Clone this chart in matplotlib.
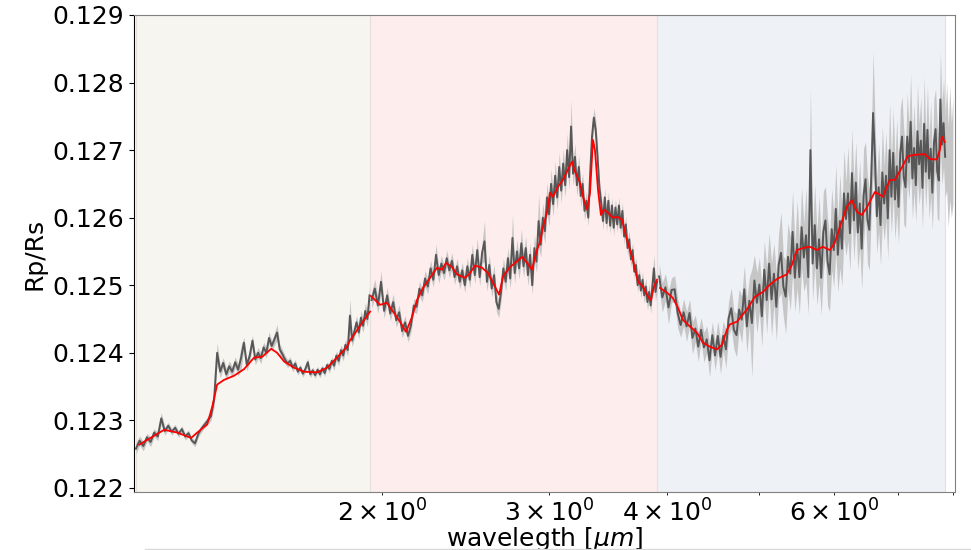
import numpy as np
import matplotlib
matplotlib.use("Agg")
import matplotlib.pyplot as plt
from matplotlib.lines import Line2D

# --- short band: wavelength [um], Rp/Rs, error (in 1e-5 units) ---
wl_a = [1.10, 1.11, 1.12, 1.13, 1.14, 1.15, 1.16, 1.17, 1.18, 1.19,
        1.20, 1.21, 1.22, 1.23, 1.24, 1.25, 1.26, 1.27, 1.28, 1.29,
        1.30, 1.31, 1.32, 1.33, 1.34, 1.35, 1.36, 1.37, 1.38, 1.39,
        1.40, 1.41, 1.42, 1.43, 1.44, 1.45, 1.46, 1.47, 1.48, 1.49,
        1.50, 1.51, 1.52, 1.53, 1.54, 1.55, 1.56, 1.57, 1.58, 1.59,
        1.60, 1.61, 1.62, 1.63, 1.64, 1.65, 1.66, 1.67, 1.68, 1.69,
        1.70, 1.71, 1.72, 1.73, 1.74, 1.75, 1.76, 1.77, 1.78, 1.79,
        1.80, 1.81, 1.82, 1.83, 1.84, 1.85, 1.86, 1.87, 1.88, 1.89,
        1.90, 1.91, 1.92, 1.93, 1.94]
rp_a = [0.12258, 0.12270, 0.12262, 0.12275, 0.12268, 0.12282, 0.12276, 0.12303, 0.12284, 0.12292,
        0.12283, 0.12289, 0.12280, 0.12287, 0.12276, 0.12281, 0.12270, 0.12266, 0.12280, 0.12288,
        0.12294, 0.12300, 0.12306, 0.12330, 0.12400, 0.12372, 0.12385, 0.12368, 0.12380, 0.12372,
        0.12386, 0.12375, 0.12392, 0.12415, 0.12382, 0.12395, 0.12418, 0.12390, 0.12400, 0.12392,
        0.12408, 0.12400, 0.12422, 0.12410, 0.12420, 0.12430, 0.12405, 0.12398, 0.12390, 0.12384,
        0.12388, 0.12378, 0.12384, 0.12372, 0.12378, 0.12369, 0.12376, 0.12386, 0.12368, 0.12374,
        0.12367, 0.12375, 0.12368, 0.12377, 0.12370, 0.12382, 0.12376, 0.12388, 0.12381, 0.12396,
        0.12388, 0.12404, 0.12396, 0.12412, 0.12404, 0.12455, 0.12418, 0.12432, 0.12445, 0.12430,
        0.12452, 0.12440, 0.12462, 0.12450, 0.12485]
err_a = [8, 7, 7, 6, 7, 6, 6, 9, 6, 5,
         5, 5, 5, 5, 5, 5, 4, 5, 5, 5,
         5, 6, 6, 10, 15, 9, 8, 9, 8, 8,
         8, 9, 18, 8, 9, 10, 8, 8, 8, 8,
         8, 8, 9, 8, 9, 12, 8, 7, 6, 6,
         6, 6, 6, 5, 5, 5, 5, 6, 5, 5,
         5, 5, 5, 5, 5, 5, 6, 6, 7, 7,
         7, 8, 8, 8, 9, 25, 9, 10, 10, 9,
         11, 10, 12, 11, 13]

# --- middle band ---
wl_b = [1.950, 1.965, 1.980, 1.995, 2.010, 2.025, 2.040, 2.055, 2.070, 2.085,
        2.100, 2.115, 2.130, 2.145, 2.160, 2.175, 2.190, 2.205, 2.220, 2.235,
        2.250, 2.265, 2.280, 2.295, 2.310, 2.325, 2.340, 2.355, 2.370, 2.385,
        2.400, 2.415, 2.430, 2.445, 2.460, 2.475, 2.490, 2.505, 2.520, 2.535,
        2.550, 2.565, 2.580, 2.595, 2.610, 2.625, 2.640, 2.655, 2.670, 2.685,
        2.700, 2.715, 2.730, 2.745, 2.760, 2.775, 2.790, 2.805, 2.820, 2.835,
        2.850, 2.865, 2.880, 2.895, 2.910, 2.925, 2.940, 2.955, 2.970, 2.985,
        3.000, 3.015, 3.030, 3.045, 3.060, 3.075, 3.090, 3.105, 3.120, 3.135,
        3.150, 3.165, 3.180, 3.195, 3.210, 3.225, 3.240, 3.255, 3.270, 3.285,
        3.300, 3.315, 3.330, 3.345, 3.360, 3.375, 3.390, 3.405, 3.420, 3.435,
        3.450, 3.465, 3.480, 3.495, 3.510, 3.525, 3.540, 3.555, 3.570, 3.585,
        3.600, 3.615, 3.630, 3.645, 3.660, 3.675, 3.690, 3.705, 3.720, 3.735,
        3.750, 3.765, 3.780, 3.795, 3.810, 3.825, 3.840, 3.855, 3.870, 3.885,
        3.900]
rp_b = [0.12478, 0.12495, 0.12470, 0.12505, 0.12462, 0.12485, 0.12458, 0.12475, 0.12448, 0.12460,
        0.12432, 0.12445, 0.12425, 0.12440, 0.12470, 0.12468, 0.12495, 0.12485, 0.12510, 0.12498,
        0.12525, 0.12508, 0.12545, 0.12515, 0.12532, 0.12518, 0.12540, 0.12522, 0.12536, 0.12512,
        0.12528, 0.12505, 0.12522, 0.12500, 0.12528, 0.12508, 0.12545, 0.12515, 0.12552, 0.12512,
        0.12548, 0.12565, 0.12505, 0.12530, 0.12495, 0.12515, 0.12475, 0.12465, 0.12490, 0.12525,
        0.12505, 0.12540, 0.12510, 0.12570, 0.12518, 0.12550, 0.12525, 0.12562, 0.12528, 0.12555,
        0.12515, 0.12545, 0.12500, 0.12555, 0.12535, 0.12595, 0.12560, 0.12600, 0.12580, 0.12630,
        0.12605, 0.12650, 0.12620, 0.12662, 0.12630, 0.12675, 0.12640, 0.12680, 0.12648, 0.12700,
        0.12660, 0.12735, 0.12665, 0.12690, 0.12648, 0.12675, 0.12632, 0.12650, 0.12610, 0.12625,
        0.12600, 0.12665, 0.12720, 0.12748, 0.12730, 0.12690, 0.12645, 0.12622, 0.12595, 0.12630,
        0.12592, 0.12625, 0.12588, 0.12618, 0.12585, 0.12615, 0.12590, 0.12618, 0.12585, 0.12610,
        0.12572, 0.12590, 0.12555, 0.12568, 0.12538, 0.12552, 0.12520, 0.12530, 0.12500, 0.12515,
        0.12492, 0.12508, 0.12485, 0.12498, 0.12475, 0.12490, 0.12470, 0.12498, 0.12525, 0.12490,
        0.12505]
err_b = [12, 14, 12, 16, 11, 12, 11, 12, 10, 11,
         10, 10, 9, 10, 10, 10, 11, 10, 12, 11,
         12, 11, 16, 12, 12, 11, 12, 11, 12, 11,
         12, 11, 12, 11, 13, 12, 16, 13, 18, 13,
         16, 30, 14, 15, 13, 15, 14, 13, 14, 15,
         14, 16, 15, 35, 15, 18, 16, 22, 16, 18,
         16, 18, 14, 20, 16, 40, 18, 22, 18, 22,
         18, 22, 18, 22, 18, 22, 18, 22, 18, 25,
         18, 40, 18, 20, 16, 18, 16, 16, 14, 14,
         12, 15, 16, 14, 16, 15, 14, 13, 13, 14,
         13, 14, 12, 13, 12, 13, 12, 13, 12, 13,
         12, 12, 12, 12, 11, 11, 11, 11, 11, 11,
         11, 12, 12, 12, 12, 12, 12, 14, 20, 14,
         14]

# --- long band ---
wl_c = [3.92, 3.95, 3.98, 4.01, 4.04, 4.07, 4.10, 4.13, 4.16, 4.19,
        4.22, 4.25, 4.28, 4.31, 4.34, 4.37, 4.40, 4.43, 4.46, 4.49,
        4.52, 4.55, 4.58, 4.61, 4.64, 4.67, 4.70, 4.73, 4.76, 4.79,
        4.82, 4.85, 4.88, 4.91, 4.94, 4.97, 5.00, 5.03, 5.06, 5.09,
        5.12, 5.15, 5.18, 5.21, 5.24, 5.27, 5.30, 5.33, 5.36, 5.39,
        5.42, 5.45, 5.48, 5.51, 5.54, 5.57, 5.60, 5.63, 5.66, 5.69,
        5.72, 5.75, 5.78, 5.81, 5.84, 5.87, 5.90, 5.93, 5.96, 5.99,
        6.02, 6.05, 6.08, 6.11, 6.14, 6.17, 6.20, 6.23, 6.26, 6.29,
        6.32, 6.35, 6.38, 6.41, 6.44, 6.47, 6.50, 6.53, 6.56, 6.59,
        6.62, 6.65, 6.68, 6.71, 6.74, 6.77, 6.80, 6.83, 6.86, 6.89,
        6.92, 6.95, 6.98, 7.01, 7.04, 7.07, 7.10, 7.13, 7.16, 7.19,
        7.22, 7.25, 7.28, 7.31, 7.34, 7.37, 7.40, 7.43, 7.46, 7.49,
        7.52, 7.55, 7.58, 7.61, 7.64, 7.67, 7.70, 7.73, 7.76, 7.79,
        7.82, 7.85, 7.88, 7.91, 7.94, 7.97, 8.00]
rp_c = [0.12513, 0.12482, 0.12497, 0.12467, 0.12493, 0.12494, 0.12459, 0.12441, 0.12460, 0.12439,
        0.12459, 0.12422, 0.12436, 0.12409, 0.12434, 0.12408, 0.12420, 0.12389, 0.12426, 0.12396,
        0.12425, 0.12394, 0.12425, 0.12405, 0.12451, 0.12466, 0.12434, 0.12426, 0.12464, 0.12449,
        0.12494, 0.12439, 0.12477, 0.12444, 0.12507, 0.12474, 0.12501, 0.12454, 0.12523, 0.12478,
        0.12532, 0.12479, 0.12517, 0.12468, 0.12530, 0.12548, 0.12498, 0.12483, 0.12542, 0.12517,
        0.12579, 0.12511, 0.12561, 0.12512, 0.12586, 0.12541, 0.12574, 0.12512, 0.12700, 0.12532,
        0.12589, 0.12525, 0.12568, 0.12511, 0.12579, 0.12596, 0.12535, 0.12516, 0.12583, 0.12552,
        0.12613, 0.12545, 0.12595, 0.12554, 0.12636, 0.12598, 0.12636, 0.12577, 0.12666, 0.12596,
        0.12652, 0.12578, 0.12621, 0.12554, 0.12633, 0.12657, 0.12597, 0.12582, 0.12657, 0.12755,
        0.12688, 0.12602, 0.12645, 0.12589, 0.12667, 0.12621, 0.12662, 0.12599, 0.12700, 0.12631,
        0.12696, 0.12627, 0.12676, 0.12616, 0.12696, 0.12720, 0.12660, 0.12645, 0.12720, 0.12682,
        0.12742, 0.12658, 0.12703, 0.12648, 0.12728, 0.12679, 0.12714, 0.12644, 0.12739, 0.12668,
        0.12730, 0.12658, 0.12702, 0.12637, 0.12711, 0.12731, 0.12669, 0.12655, 0.12775, 0.12708,
        0.12740, 0.12690, 0.12720, 0.12660, 0.12710, 0.12670, 0.12700]
err_c = [18, 22, 20, 25, 18, 20, 22, 18, 20, 22,
         20, 24, 20, 22, 18, 22, 20, 25, 20, 22,
         22, 25, 22, 28, 25, 30, 28, 32, 30, 35,
         35, 40, 35, 80, 38, 45, 40, 45, 42, 50,
         45, 55, 45, 50, 48, 60, 45, 55, 50, 55,
         60, 50, 65, 55, 60, 50, 70, 55, 90, 55,
         60, 55, 65, 55, 60, 50, 65, 55, 60, 55,
         65, 55, 70, 55, 65, 55, 70, 55, 65, 60,
         60, 55, 65, 60, 70, 55, 65, 60, 55, 90,
         60, 55, 65, 60, 70, 55, 65, 60, 70, 55,
         65, 60, 70, 55, 65, 60, 70, 60, 65, 55,
         70, 60, 65, 55, 70, 60, 65, 60, 70, 55,
         65, 60, 70, 55, 65, 60, 70, 60, 70, 60,
         65, 60, 80, 75, 85, 70, 80]

# smoothed model, one piece per band
mod_wl_a = [1.109, 1.178, 1.216, 1.258, 1.277, 1.308, 1.324, 1.340, 1.363, 1.396,
            1.431, 1.466, 1.495, 1.528, 1.550, 1.577, 1.615, 1.655, 1.708, 1.750,
            1.793, 1.837, 1.851, 1.869, 1.896, 1.943]
mod_rp_a = [0.12264, 0.12286, 0.12282, 0.12274, 0.12282, 0.12294, 0.12320, 0.12353, 0.12360, 0.12366,
            0.12376, 0.12393, 0.12394, 0.12406, 0.12400, 0.12387, 0.12378, 0.12372, 0.12371, 0.12378,
            0.12393, 0.12409, 0.12419, 0.12427, 0.12440, 0.12461]
mod_wl_b = [1.947, 1.990, 2.024, 2.054, 2.089, 2.120, 2.151, 2.177, 2.209, 2.247,
            2.286, 2.313, 2.336, 2.370, 2.399, 2.447, 2.476, 2.506, 2.549, 2.587,
            2.631, 2.657, 2.683, 2.729, 2.762, 2.810, 2.844, 2.878, 2.913, 2.935,
            2.956, 2.985, 3.007, 3.029, 3.066, 3.104, 3.141, 3.172, 3.195, 3.234,
            3.258, 3.290, 3.314, 3.338, 3.354, 3.379, 3.403, 3.428, 3.462, 3.504,
            3.547, 3.582, 3.625, 3.670, 3.724, 3.769, 3.815, 3.843, 3.871, 3.899]
mod_rp_b = [0.12484, 0.12471, 0.12474, 0.12461, 0.12446, 0.12431, 0.12453, 0.12478, 0.12496, 0.12511,
            0.12526, 0.12523, 0.12533, 0.12527, 0.12516, 0.12511, 0.12518, 0.12529, 0.12526, 0.12518,
            0.12498, 0.12486, 0.12513, 0.12527, 0.12533, 0.12542, 0.12533, 0.12523, 0.12552, 0.12564,
            0.12586, 0.12607, 0.12637, 0.12631, 0.12646, 0.12656, 0.12671, 0.12683, 0.12668, 0.12652,
            0.12631, 0.12612, 0.12637, 0.12715, 0.12700, 0.12641, 0.12604, 0.12612, 0.12607, 0.12600,
            0.12601, 0.12597, 0.12567, 0.12542, 0.12505, 0.12498, 0.12483, 0.12478, 0.12498, 0.12508]
mod_wl_c = [3.928, 3.995, 4.053, 4.102, 4.152, 4.223, 4.296, 4.359, 4.434, 4.510,
            4.565, 4.621, 4.654, 4.734, 4.850, 4.946, 5.043, 5.129, 5.229, 5.345,
            5.410, 5.476, 5.556, 5.651, 5.748, 5.832, 5.933, 6.005, 6.079, 6.183,
            6.258, 6.334, 6.412, 6.490, 6.618, 6.698, 6.747, 6.863, 6.947, 7.065,
            7.169, 7.292, 7.471, 7.562, 7.692, 7.749, 7.787, 7.844]
mod_rp_c = [0.12496, 0.12489, 0.12481, 0.12467, 0.12449, 0.12439, 0.12430, 0.12415, 0.12409, 0.12405,
            0.12412, 0.12434, 0.12442, 0.12446, 0.12464, 0.12483, 0.12490, 0.12501, 0.12510, 0.12516,
            0.12530, 0.12552, 0.12555, 0.12557, 0.12552, 0.12557, 0.12552, 0.12563, 0.12586, 0.12616,
            0.12626, 0.12609, 0.12604, 0.12615, 0.12638, 0.12634, 0.12631, 0.12656, 0.12656, 0.12674,
            0.12691, 0.12693, 0.12694, 0.12687, 0.12686, 0.12700, 0.12720, 0.12712]

band_edges = [1.10, 1.94, 3.90, 7.85]
band_colors = ['#f6f5f0', '#fdeeed', '#eef1f6']

fig = plt.figure(figsize=(9.71, 5.5), dpi=100)
ax = fig.add_axes([0.138, 0.1055, 0.8455, 0.8673])

for i, c in enumerate(band_colors):
    ax.axvspan(band_edges[i], band_edges[i + 1], facecolor=c, edgecolor='#e8dede', lw=0.8, zorder=0)

for wl, rp, err in [(wl_a, rp_a, err_a), (wl_b, rp_b, err_b), (wl_c, rp_c, err_c)]:
    wl = np.array(wl)
    rp = np.array(rp)
    err = np.array(err) * 1e-5
    ax.fill_between(wl, rp - err, rp + err, color='#c6c6c6', lw=0, zorder=1)
    keep = wl <= band_edges[-1] + 1e-9
    ax.plot(wl[keep], rp[keep], color='#575757', lw=1.4, zorder=2)

for mw, mr in [(mod_wl_a, mod_rp_a), (mod_wl_b, mod_rp_b), (mod_wl_c, mod_rp_c)]:
    ax.plot(mw, mr, color='red', lw=1.3, zorder=3)

ax.set_xscale('log')
ax.set_xlim(1.095, 8.04)
ax.set_ylim(0.12194, 0.129)
ax.set_xlabel('wavelegth [$\\mu m$]', fontsize=18, labelpad=-1)
ax.set_ylabel('Rp/Rs', fontsize=18)
ax.tick_params(which='both', labelsize=18)
for side in ['top', 'bottom', 'right']:
    ax.spines[side].set_color('#808080')

# thin rule along the bottom edge
fig.add_artist(Line2D([145 / 971, 1.0], [1.5 / 550, 1.5 / 550], color='#d9d9d9', lw=1))

fig.savefig('out.png', dpi=100)
